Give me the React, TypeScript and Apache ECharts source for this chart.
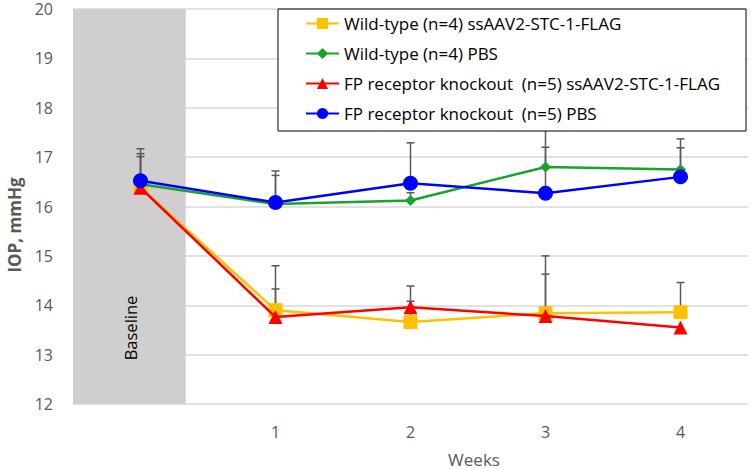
import React, { useEffect, useRef } from "react";
import * as echarts from "echarts";

const weekPositions = [0, 1, 2, 3, 4];
const weekTickLabels = [1, 2, 3, 4];
const yTicks = { min: 12, max: 20, step: 1 };

const seriesNames = [
  "Wild-type (n=4) ssAAV2-STC-1-FLAG",
  "Wild-type (n=4) PBS",
  "FP receptor knockout  (n=5) ssAAV2-STC-1-FLAG",
  "FP receptor knockout  (n=5) PBS",
];

const wtStcMean = [16.38, 13.9, 13.66, 13.84, 13.86];
const wtPbsMean = [16.45, 16.05, 16.12, 16.8, 16.75];
const koStcMean = [16.38, 13.76, 13.96, 13.78, 13.55];
const koPbsMean = [16.52, 16.08, 16.47, 16.27, 16.6];

const wtStcSd = [0.63, 0.9, 0.42, 1.16, 0.6];
const wtPbsSd = [0.62, 0.67, 0.16, 0.85, 0.62];
const koStcSd = [null, 0.57, 0.43, 0.85, null];
const koPbsSd = [0.65, 0.55, 0.82, 0.93, 0.59];

const baselineBand = [-0.5, 0.335];

const FONT = "'Open Sans', 'Liberation Sans', sans-serif";

export default function App() {
  const ref = useRef<HTMLDivElement>(null);

  useEffect(() => {
    document.body.style.margin = "0";
    if (!ref.current) return;
    const chart = echarts.init(ref.current, undefined, { renderer: "svg" });

    const colors = ["#FFC000", "#1AA32A", "#FF0000", "#0000FF"];
    const symbols = ["rect", "diamond", "triangle", "circle"];
    const symbolSizes = [14, 11, 14, 15];
    const means = [wtStcMean, wtPbsMean, koStcMean, koPbsMean];
    const sds = [wtStcSd, wtPbsSd, koStcSd, koPbsSd];

    const errData: any[] = [];
    means.forEach((m, si) => {
      m.forEach((v, i) => {
        const sd = sds[si][i];
        if (sd != null) errData.push([weekPositions[i], v, v + sd]);
      });
    });

    const lineSeries = seriesNames.map((name, si) => ({
      name,
      type: "line",
      data: means[si].map((v, i) => [weekPositions[i], v]),
      symbol: symbols[si],
      symbolSize: symbolSizes[si],
      lineStyle: { color: colors[si], width: 2.5 },
      itemStyle: { color: colors[si] },
      z: 3 + si,
    }));

    const option: any = {
      animation: false,
      grid: { left: 73, right: 3, top: 9, bottom: 66 },
      xAxis: {
        type: "value",
        min: -0.5,
        max: 4.5,
        axisLine: { show: false },
        axisTick: { show: false },
        splitLine: { show: false },
        axisLabel: {
          customValues: weekTickLabels,
          color: "#595959",
          fontSize: 16,
          fontFamily: FONT,
          margin: 20,
        },
      },
      yAxis: {
        type: "value",
        min: yTicks.min,
        max: yTicks.max,
        interval: yTicks.step,
        axisLine: { show: false },
        axisTick: { show: false },
        splitLine: { show: true, lineStyle: { color: "#D9D9D9", width: 1.5 } },
        axisLabel: { color: "#595959", fontSize: 16, fontFamily: FONT, margin: 20 },
      },
      legend: {
        orient: "vertical",
        left: 278,
        top: 9,
        padding: [6, 26, 9, 27],
        itemGap: 13,
        itemWidth: 33,
        itemHeight: 14,
        borderColor: "#000",
        borderWidth: 1,
        backgroundColor: "#fff",
        data: seriesNames,
        textStyle: { fontSize: 17, lineHeight: 17, color: "#000", fontFamily: FONT },
        z: 10,
      },
      graphic: [
        {
          type: "text",
          x: 14,
          y: 225,
          z: 100,
          rotation: Math.PI / 2,
          style: {
            text: "IOP, mmHg",
            fontSize: 17,
            fontWeight: "bold",
            fill: "#595959",
            fontFamily: FONT,
            align: "center",
            verticalAlign: "middle",
          },
        },
        {
          type: "text",
          x: 130,
          y: 328,
          z: 100,
          rotation: Math.PI / 2,
          style: {
            text: "Baseline",
            fontSize: 16.5,
            fill: "#000",
            fontFamily: FONT,
            align: "center",
            verticalAlign: "middle",
          },
        },
        {
          type: "text",
          x: 474,
          y: 459,
          z: 100,
          style: {
            text: "Weeks",
            fontSize: 17,
            fill: "#595959",
            fontFamily: FONT,
            align: "center",
            verticalAlign: "middle",
          },
        },
      ],
      series: [
        {
          type: "line",
          data: [],
          silent: true,
          markArea: {
            silent: true,
            itemStyle: { color: "#D0CECE" },
            data: [[{ xAxis: baselineBand[0] }, { xAxis: baselineBand[1] }]],
          },
          z: 1,
        },
        {
          type: "custom",
          silent: true,
          z: 2,
          data: errData,
          encode: { x: 0, y: [1, 2] },
          renderItem: (params: any, api: any) => {
            const x = api.value(0);
            const base = api.coord([x, api.value(1)]);
            const top = api.coord([x, api.value(2)]);
            const style = { stroke: "#595959", lineWidth: 1.5 };
            return {
              type: "group",
              children: [
                { type: "line", shape: { x1: base[0], y1: base[1], x2: top[0], y2: top[1] }, style },
                { type: "line", shape: { x1: top[0] - 4, y1: top[1], x2: top[0] + 4, y2: top[1] }, style },
              ],
            };
          },
        },
        ...lineSeries,
      ],
    };

    chart.setOption(option);
    return () => chart.dispose();
  }, []);

  return <div ref={ref} style={{ width: 751, height: 470 }} />;
}
